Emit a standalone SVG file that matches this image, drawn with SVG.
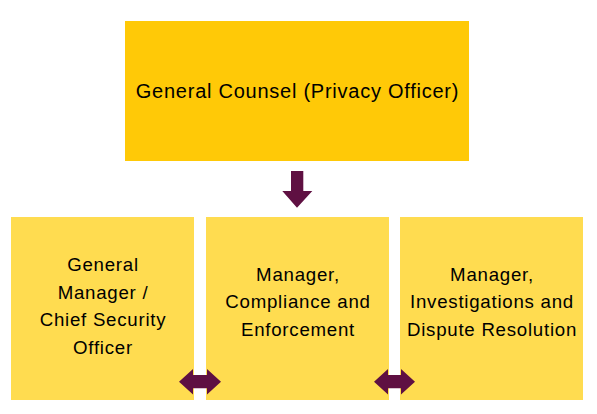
<svg xmlns="http://www.w3.org/2000/svg" width="597" height="414" viewBox="0 0 597 414">
  <style>
    .top { fill: #FFC907; }
    .sub { fill: #FFDC50; }
    .lbl { font-family: "Liberation Sans", Arial, sans-serif; fill: #000000; text-anchor: middle; letter-spacing: 0.75px; }
    .big { font-size: 20px; }
    .small { font-size: 18.67px; }
    .arrow { fill: #5F1042; }
  </style>
  <rect width="597" height="414" fill="#FFFFFF"/>
  <g id="node-general-counsel">
    <rect class="top" x="125" y="21" width="344" height="140"/>
    <text class="lbl big" x="297.5" y="98">General Counsel (Privacy Officer)</text>
  </g>
  <g id="node-general-manager">
    <rect class="sub" x="11" y="217" width="183" height="183"/>
    <text class="lbl small" x="103" y="271">General</text>
    <text class="lbl small" x="103" y="298.6">Manager /</text>
    <text class="lbl small" x="103" y="326.2">Chief Security</text>
    <text class="lbl small" x="103" y="353.8">Officer</text>
  </g>
  <g id="node-compliance">
    <rect class="sub" x="206" y="217" width="183" height="183"/>
    <text class="lbl small" x="298" y="280.6">Manager,</text>
    <text class="lbl small" x="298" y="308.2">Compliance and</text>
    <text class="lbl small" x="298" y="335.8">Enforcement</text>
  </g>
  <g id="node-investigations">
    <rect class="sub" x="400" y="217" width="183" height="183"/>
    <text class="lbl small" x="492" y="280.6">Manager,</text>
    <text class="lbl small" x="492" y="308.2">Investigations and</text>
    <text class="lbl small" x="492" y="335.8">Dispute Resolution</text>
  </g>
  <g id="connectors">
    <polygon class="arrow" points="291,171 303.3,171 303.3,191 312.3,191 297,207.7 282.3,191 291,191"/>
    <polygon class="arrow" points="179,381.7 193,369 193,375 207,375 207,369 221,381.7 207,394.5 207,388.3 193,388.3 193,394.5"/>
    <polygon class="arrow" points="374,381.7 388,369 388,375 401,375 401,369 415,381.7 401,394.5 401,388.3 388,388.3 388,394.5"/>
  </g>
</svg>
